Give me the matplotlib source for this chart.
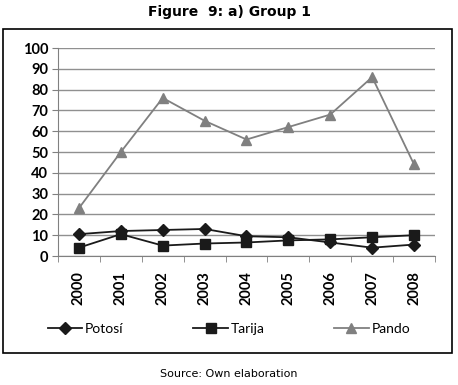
import matplotlib
matplotlib.use("Agg")
import matplotlib.pyplot as plt
from matplotlib.patches import Rectangle

plt.rcParams['font.family'] = ['Lato', 'DejaVu Sans']

years = ["2000", "2001", "2002", "2003", "2004", "2005", "2006", "2007", "2008"]
potosi = [10.5, 12, 12.5, 13, 9.5, 9, 6.5, 4, 5.5]
tarija = [4, 10.5, 5, 6, 6.5, 7.5, 8, 9, 10]
pando = [23, 50, 76, 65, 56, 62, 68, 86, 44]
yticks = list(range(0, 101, 10))

fig = plt.figure(figsize=(4.58, 3.85), dpi=100)
fig.patch.set_facecolor("white")

# outer chart box
fig.patches.append(Rectangle((3/458, 1-353/385), 449/458, 324/385, transform=fig.transFigure,
                             fill=False, edgecolor="black", linewidth=1.2))

ax = fig.add_axes([58/458, 1-256/385, 377/458, 208/385])
x = list(range(len(years)))
ax.plot(x, pando, color="#808080", marker="^", markersize=7.5, linewidth=1.3, label="Pando", zorder=3)
ax.plot(x, potosi, color="#1a1a1a", marker="D", markersize=6, linewidth=1.3, label="Potosí", zorder=4)
ax.plot(x, tarija, color="#1a1a1a", marker="s", markersize=7, linewidth=1.3, label="Tarija", zorder=4)

ax.set_xlim(-0.5, len(years) - 0.5)
ax.set_ylim(0, 100)
ax.set_yticks(yticks)
ax.set_yticklabels([str(v) for v in yticks], fontsize=10.5, fontweight="bold")
ax.set_xticks(x)
ax.set_xticklabels(years, rotation=90, fontsize=10.5, fontweight="bold")
ax.set_xticks([i - 0.5 for i in range(len(years) + 1)], minor=True)
ax.tick_params(axis="x", which="major", length=0, pad=11)
ax.tick_params(axis="x", which="minor", length=4, color="#808080")
ax.tick_params(axis="y", length=4, color="#808080", pad=3)
ax.grid(axis="y", color="#909090", linewidth=1)
ax.set_axisbelow(True)
for s in ["top", "right"]:
    ax.spines[s].set_visible(False)
for s in ["left", "bottom"]:
    ax.spines[s].set_color("#808080")

handles, labels = ax.get_legend_handles_labels()
order = [1, 2, 0]
fig.legend([handles[i] for i in order], [labels[i] for i in order], loc="center",
           bbox_to_anchor=(0.5, 1-329/385), ncol=3, frameon=False,
           columnspacing=5.0, handlelength=2.5, handletextpad=0.2,
           prop={'size': 10})

fig.text(0.5, 1-12/385, "Figure  9: a) Group 1", ha="center", va="center", fontsize=10,
         fontweight="bold", family="DejaVu Sans")
fig.text(0.5, 1-374/385, "Source: Own elaboration", ha="center", va="center", fontsize=8,
         family="DejaVu Sans")

fig.savefig("out.png", dpi=100)
